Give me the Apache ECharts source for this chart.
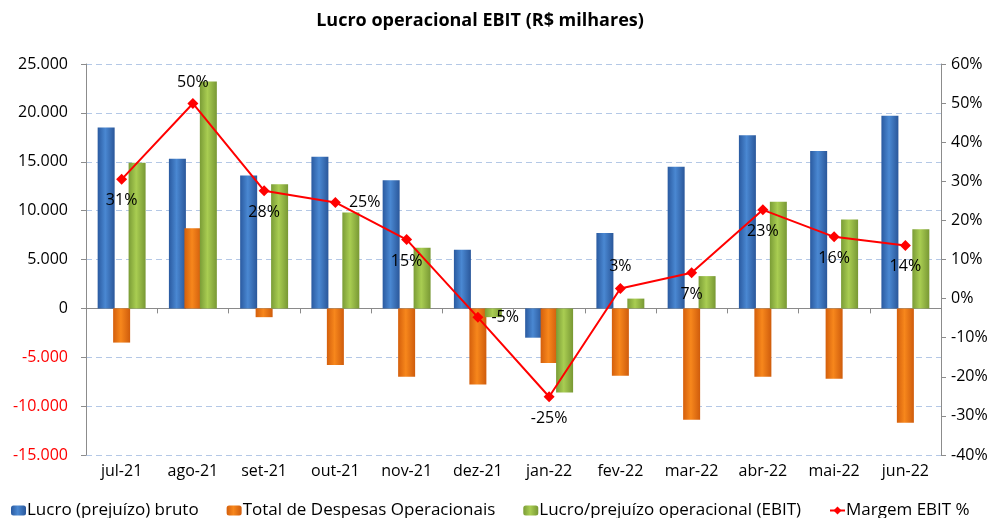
<!DOCTYPE html>
<html>
<head>
<meta charset="utf-8">
<script src="https://cdn.jsdelivr.net/npm/echarts@6/dist/echarts.min.js"></script>
<style>
  html, body { margin: 0; padding: 0; background: #fff; }
  #chart { width: 998px; height: 518px; }
</style>
</head>
<body>
<div id="chart"></div>
<script>
// meses
var meses = ['jul-21', 'ago-21', 'set-21', 'out-21', 'nov-21', 'dez-21', 'jan-22', 'fev-22', 'mar-22', 'abr-22', 'mai-22', 'jun-22'];
// R$ milhares
var lucroBruto = [18500, 15300, 13600, 15500, 13100, 6000, -3000, 7700, 14500, 17700, 16100, 19700];
var despesasOper = [-3500, 8200, -900, -5800, -7000, -7800, -5600, -6900, -11400, -7000, -7200, -11700];
var ebit = [14900, 23200, 12700, 9800, 6200, -900, -8600, 1000, 3300, 10900, 9100, 8100];
// %
var margemEbit = [30.5, 49.9, 27.6, 24.6, 15.1, -4.8, -25.1, 2.6, 6.6, 22.7, 15.8, 13.6];
var posRotulo = ['bottom', 'top', 'bottom', 'right', 'bottom', 'right', 'bottom', 'top', 'bottom', 'bottom', 'bottom', 'bottom'];

var fonte = "'Open Sans', 'Noto Sans', sans-serif";

function milhar(v) {
  var s = String(Math.abs(v)).replace(/\B(?=(\d{3})+(?!\d))/g, '.');
  return (v < 0 ? '-' : '') + s;
}

function cilindro(c1, c2, c3) {
  return new echarts.graphic.LinearGradient(0, 0, 1, 0, [
    { offset: 0, color: c1 },
    { offset: 0.45, color: c2 },
    { offset: 1, color: c3 }
  ]);
}

var myChart = echarts.init(document.getElementById('chart'));

var option = {
  animation: false,
  textStyle: { fontFamily: fonte },
  title: {
    text: 'Lucro operacional EBIT (R$ milhares)',
    left: 475,
    textAlign: 'center',
    top: 7,
    textStyle: { fontFamily: fonte, fontSize: 18, fontWeight: 'bold', color: '#000' }
  },
  legend: {
    left: 6,
    top: 497,
    itemWidth: 15,
    itemHeight: 10,
    itemGap: 28,
    textStyle: { fontFamily: fonte, fontSize: 17, color: '#000', padding: [0, 0, 0, -4] },
    data: ['Lucro (prejuízo) bruto', 'Total de Despesas Operacionais', 'Lucro/prejuízo operacional (EBIT)', 'Margem EBIT %']
  },
  grid: { left: 86, right: 57, top: 64, bottom: 63, containLabel: false, outerBoundsMode: 'none' },
  xAxis: {
    type: 'category',
    data: meses,
    axisLine: { show: true, onZero: true, lineStyle: { color: '#8a8a8a', width: 1 } },
    axisTick: { show: true, inside: false, length: 5, lineStyle: { color: '#8a8a8a' } },
    axisLabel: { margin: 8, color: '#000', fontSize: 16, fontFamily: fonte },
    splitLine: { show: false }
  },
  yAxis: [
    {
      type: 'value',
      min: -15000,
      max: 25000,
      interval: 5000,
      axisLine: { show: true, lineStyle: { color: '#8c8c8c' } },
      axisTick: { show: true, length: 5, lineStyle: { color: '#8c8c8c' } },
      axisLabel: {
        margin: 18,
        fontSize: 16,
        fontFamily: fonte,
        formatter: milhar,
        color: function (v) { return Number(v) < 0 ? '#ff0000' : '#000'; }
      },
      splitLine: { show: true, lineStyle: { color: '#b4c8e6', type: [6, 4], width: 1 } }
    },
    {
      type: 'value',
      min: -40,
      max: 60,
      interval: 10,
      position: 'right',
      axisLine: { show: true, lineStyle: { color: '#8c8c8c' } },
      axisTick: { show: true, length: 5, lineStyle: { color: '#8c8c8c' } },
      axisLabel: { margin: 10, fontSize: 16, fontFamily: fonte, color: '#000', formatter: '{value}%' },
      splitLine: { show: false }
    }
  ],
  series: [
    {
      name: 'Lucro (prejuízo) bruto',
      type: 'bar',
      data: lucroBruto,
      barWidth: 17,
      barGap: '-9%',
      itemStyle: { color: cilindro('#2a5aa0', '#4a88d2', '#2a579a') },
      // linha do zero
      markLine: {
        silent: true,
        symbol: 'none',
        label: { show: false },
        lineStyle: { color: '#8a8a8a', type: 'solid', width: 1 },
        data: [{ yAxis: 0 }],
        z: 1
      }
    },
    {
      name: 'Total de Despesas Operacionais',
      type: 'bar',
      data: despesasOper,
      barWidth: 17,
      barGap: '-9%',
      itemStyle: { color: cilindro('#d45f0c', '#f7871c', '#cf5c0c') }
    },
    {
      name: 'Lucro/prejuízo operacional (EBIT)',
      type: 'bar',
      data: ebit,
      barWidth: 17,
      barGap: '-9%',
      itemStyle: { color: cilindro('#7a9c36', '#a9cd52', '#789834') }
    },
    {
      name: 'Margem EBIT %',
      type: 'line',
      yAxisIndex: 1,
      data: margemEbit.map(function (v, i) {
        return { value: v, label: { position: posRotulo[i] } };
      }),
      symbol: 'diamond',
      symbolSize: 11,
      lineStyle: { color: '#ff0000', width: 2 },
      itemStyle: { color: '#ff0000' },
      label: {
        show: true,
        distance: 8,
        fontSize: 16,
        fontFamily: fonte,
        color: '#000',
        formatter: function (p) { return Math.round(p.value) + '%'; }
      },
      z: 5
    }
  ]
};

option && myChart.setOption(option);
</script>
</body>
</html>
